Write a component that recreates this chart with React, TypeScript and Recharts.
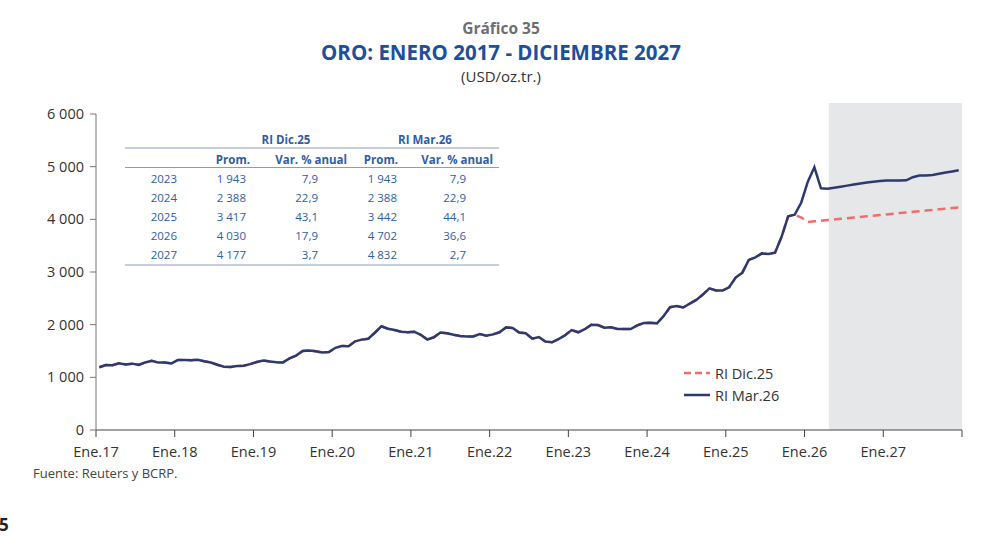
import React from 'react'
import { LineChart, Line, XAxis, YAxis, ReferenceArea } from 'recharts'

// monthly gold price, Jan 2017 - Nov 2025 (shared by both reports)
const hist = [
  1192, 1234, 1231, 1267, 1246, 1260, 1237, 1283, 1314, 1280, 1282, 1265,
  1331, 1331, 1325, 1335, 1304, 1282, 1238, 1202, 1198, 1215, 1221, 1250,
  1292, 1320, 1301, 1286, 1284, 1359, 1413, 1500, 1511, 1495, 1470, 1479,
  1561, 1597, 1592, 1683, 1716, 1732, 1847, 1969, 1922, 1900, 1866, 1858,
  1867, 1808, 1718, 1760, 1850, 1835, 1808, 1785, 1775, 1777, 1822, 1790,
  1816, 1856, 1948, 1937, 1849, 1837, 1733, 1765, 1681, 1665, 1726, 1798,
  1898, 1855, 1913, 2000, 1992, 1943, 1951, 1918, 1916, 1916, 1986, 2031,
  2034, 2025, 2159, 2331, 2352, 2326, 2399, 2471, 2572, 2690, 2651, 2648,
  2710, 2895, 2983, 3230, 3278, 3353, 3340, 3368, 3668, 4058, 4087,
]
// Dec 2025 - Dec 2027
const dicTail = [
  4034, 3950, 3962, 3974, 3986, 3998, 4010, 4022, 4034, 4046, 4058, 4070, 4082,
  4094, 4106, 4118, 4130, 4142, 4154, 4166, 4178, 4190, 4202, 4214, 4226,
]
const marTail = [
  4320, 4715, 4987, 4590, 4580, 4600, 4620, 4640, 4660, 4680, 4700, 4715, 4730,
  4735, 4735, 4735, 4740, 4800, 4830, 4830, 4840, 4865, 4890, 4910, 4930,
]

const yearLabels = ['Ene.17', 'Ene.18', 'Ene.19', 'Ene.20', 'Ene.21', 'Ene.22', 'Ene.23', 'Ene.24', 'Ene.25', 'Ene.26', 'Ene.27', '']
const yTicks = [0, 1000, 2000, 3000, 4000, 5000, 6000]

const tableYears = ['2023', '2024', '2025', '2026', '2027']
const dicProm = ['1 943', '2 388', '3 417', '4 030', '4 177']
const dicVar = ['7,9', '22,9', '43,1', '17,9', '3,7']
const marProm = ['1 943', '2 388', '3 442', '4 702', '4 832']
const marVar = ['7,9', '22,9', '44,1', '36,6', '2,7']

const data = Array.from({ length: hist.length + marTail.length }, (_, i) => ({
  x: i + 0.5,
  dic: i < hist.length ? hist[i] : dicTail[i - hist.length],
  mar: i < hist.length ? hist[i] : marTail[i - hist.length],
}))

const NAVY = '#2c3a6f'
const SALMON = '#f26d6a'
const TBL = '#2d5ea8'
const FONT = '"Open Sans", sans-serif'

export default function App() {
  const rowY = [178, 197, 216.5, 235.5, 254.5]
  return (
    <div style={{ position: 'absolute', left: 0, top: 0, width: 1001, height: 557, background: '#fff' }}>
      <LineChart width={1001} height={557} data={data} margin={{ top: 114, right: 39, bottom: 97, left: 46 }}>
        <ReferenceArea x1={111.7} x2={132} y1={0} y2={6210} fill="#e6e7e8" fillOpacity={1} stroke="none" ifOverflow="visible" />
        <XAxis
          type="number"
          dataKey="x"
          domain={[0, 132]}
          ticks={[0, 12, 24, 36, 48, 60, 72, 84, 96, 108, 120, 132]}
          tickFormatter={(v: number) => yearLabels[v / 12]}
          height={30}
          tickSize={7}
          tickMargin={10}
          stroke="#444"
          tick={{ fill: '#333', fontSize: 14.5, fontFamily: FONT }}
        />
        <YAxis
          domain={[0, 6000]}
          ticks={yTicks}
          width={50}
          tickSize={6}
          tickMargin={6}
          stroke="#777"
          tickFormatter={(v: number) => (v >= 1000 ? `${Math.floor(v / 1000)} ${String(v % 1000).padStart(3, '0')}` : String(v))}
          tick={{ fill: '#333', fontSize: 14.5, fontFamily: FONT }}
        />
        <Line type="linear" dataKey="dic" name="RI Dic.25" stroke={SALMON} strokeWidth={2.5} strokeDasharray="8 5" dot={false} isAnimationActive={false} />
        <Line type="linear" dataKey="mar" name="RI Mar.26" stroke={NAVY} strokeWidth={2.5} dot={false} isAnimationActive={false} />
      </LineChart>

      <svg width={1001} height={557} style={{ position: 'absolute', left: 0, top: 0, pointerEvents: 'none' }} fontFamily={FONT}>
        <text x={501} y={28} textAnchor="middle" dominantBaseline="central" fontSize={15.5} fontWeight={700} fill="#6d6e71">Gráfico 35</text>
        <text x={501} y={52} textAnchor="middle" dominantBaseline="central" fontSize={20.5} fontWeight={700} fill="#1d4f9c">ORO: ENERO 2017 - DICIEMBRE 2027</text>
        <text x={501} y={76} textAnchor="middle" dominantBaseline="central" fontSize={15} fill="#333">(USD/oz.tr.)</text>

        <text x={286} y={139} textAnchor="middle" dominantBaseline="central" fontSize={11.5} fontWeight={700} fill={TBL}>RI Dic.25</text>
        <text x={425} y={139} textAnchor="middle" dominantBaseline="central" fontSize={11.5} fontWeight={700} fill={TBL}>RI Mar.26</text>
        <line x1={125} y1={148} x2={499} y2={148} stroke="#8d9bbd" strokeWidth={1.2} />
        <text x={250} y={159} textAnchor="end" dominantBaseline="central" fontSize={11.5} fontWeight={700} fill={TBL}>Prom.</text>
        <text x={347} y={159} textAnchor="end" dominantBaseline="central" fontSize={11.5} fontWeight={700} fill={TBL}>Var. % anual</text>
        <text x={398} y={159} textAnchor="end" dominantBaseline="central" fontSize={11.5} fontWeight={700} fill={TBL}>Prom.</text>
        <text x={493} y={159} textAnchor="end" dominantBaseline="central" fontSize={11.5} fontWeight={700} fill={TBL}>Var. % anual</text>
        <line x1={125} y1={167.5} x2={499} y2={167.5} stroke="#8d9bbd" strokeWidth={1.2} />
        {tableYears.map((yr, i) => (
          <g key={yr} fontSize={11.5} fill={TBL}>
            <text x={177} y={rowY[i]} textAnchor="end" dominantBaseline="central">{yr}</text>
            <text x={246} y={rowY[i]} textAnchor="end" dominantBaseline="central">{dicProm[i]}</text>
            <text x={318} y={rowY[i]} textAnchor="end" dominantBaseline="central">{dicVar[i]}</text>
            <text x={397} y={rowY[i]} textAnchor="end" dominantBaseline="central">{marProm[i]}</text>
            <text x={466} y={rowY[i]} textAnchor="end" dominantBaseline="central">{marVar[i]}</text>
          </g>
        ))}
        <line x1={125} y1={265} x2={499} y2={265} stroke="#8d9bbd" strokeWidth={1.2} />

        <line x1={684} y1={373} x2={710} y2={373} stroke={SALMON} strokeWidth={2.5} strokeDasharray="7 4" />
        <text x={715} y={373} dominantBaseline="central" fontSize={14.5} fill="#333">RI Dic.25</text>
        <line x1={684} y1={395} x2={710} y2={395} stroke={NAVY} strokeWidth={2.5} />
        <text x={715} y={395} dominantBaseline="central" fontSize={14.5} fill="#333">RI Mar.26</text>

        <text x={33} y={473} dominantBaseline="central" fontSize={13} fill="#444">Fuente: Reuters y BCRP.</text>
        <text x={-1} y={524} dominantBaseline="central" fontSize={17} fontWeight={700} fill="#222">5</text>
      </svg>
    </div>
  )
}
